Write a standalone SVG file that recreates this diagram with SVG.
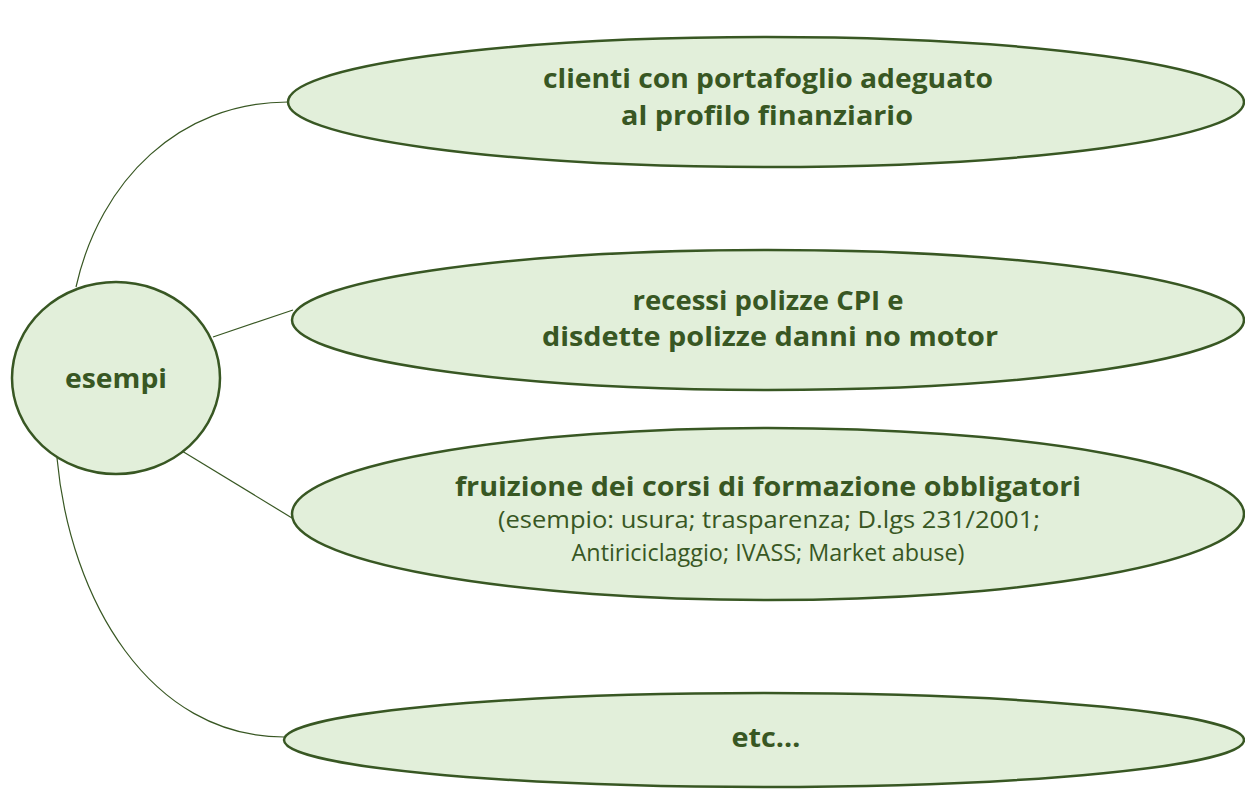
<svg xmlns="http://www.w3.org/2000/svg" width="1245" height="789" viewBox="0 0 1245 789">
<style>
.node{fill:#E2EFDA;stroke:#385723;stroke-width:2.5}
.conn{fill:none;stroke:#385723;stroke-width:1.2}
.b{font-family:"Open Sans","Liberation Sans",sans-serif;font-weight:bold;fill:#385723;text-anchor:middle;font-size:27.5px}
.r{font-family:"Open Sans","Liberation Sans",sans-serif;fill:#385723;text-anchor:middle;font-size:24.5px}
</style>
<rect width="1245" height="789" fill="#FFFFFF"/>
<g id="connectors">
<path class="conn" d="M76,287 C100,180 180,102 288,102"/>
<path class="conn" d="M213,337 L293,310"/>
<path class="conn" d="M182,451 L292,518"/>
<path class="conn" d="M57,458 C70,600 150,737 284,737"/>
</g>
<g id="node-esempi">
<ellipse class="node" cx="116" cy="378" rx="104" ry="96"/>
<text class="b" x="116" y="388" textLength="102" lengthAdjust="spacingAndGlyphs">esempi</text>
</g>
<g id="node-clienti">
<ellipse class="node" cx="766" cy="102" rx="478" ry="65"/>
<text class="b" x="768" y="88" textLength="450" lengthAdjust="spacingAndGlyphs">clienti con portafoglio adeguato</text>
<text class="b" x="767" y="125" textLength="292" lengthAdjust="spacingAndGlyphs">al profilo finanziario</text>
</g>
<g id="node-recessi">
<ellipse class="node" cx="768" cy="320" rx="476" ry="70"/>
<text class="b" x="768" y="310" textLength="271" lengthAdjust="spacingAndGlyphs">recessi polizze CPI e</text>
<text class="b" x="770" y="346" textLength="456" lengthAdjust="spacingAndGlyphs">disdette polizze danni no motor</text>
</g>
<g id="node-fruizione">
<ellipse class="node" cx="768" cy="514" rx="476" ry="86"/>
<text class="b" x="768" y="496" textLength="626" lengthAdjust="spacingAndGlyphs">fruizione dei corsi di formazione obbligatori</text>
<text class="r" x="769" y="528" textLength="542" lengthAdjust="spacingAndGlyphs">(esempio: usura; trasparenza; D.lgs 231/2001;</text>
<text class="r" x="768" y="561" textLength="393" lengthAdjust="spacingAndGlyphs">Antiriciclaggio; IVASS; Market abuse)</text>
</g>
<g id="node-etc">
<ellipse class="node" cx="764" cy="740" rx="480" ry="47"/>
<text class="b" x="766" y="747" textLength="69" lengthAdjust="spacingAndGlyphs">etc…</text>
</g>
</svg>
